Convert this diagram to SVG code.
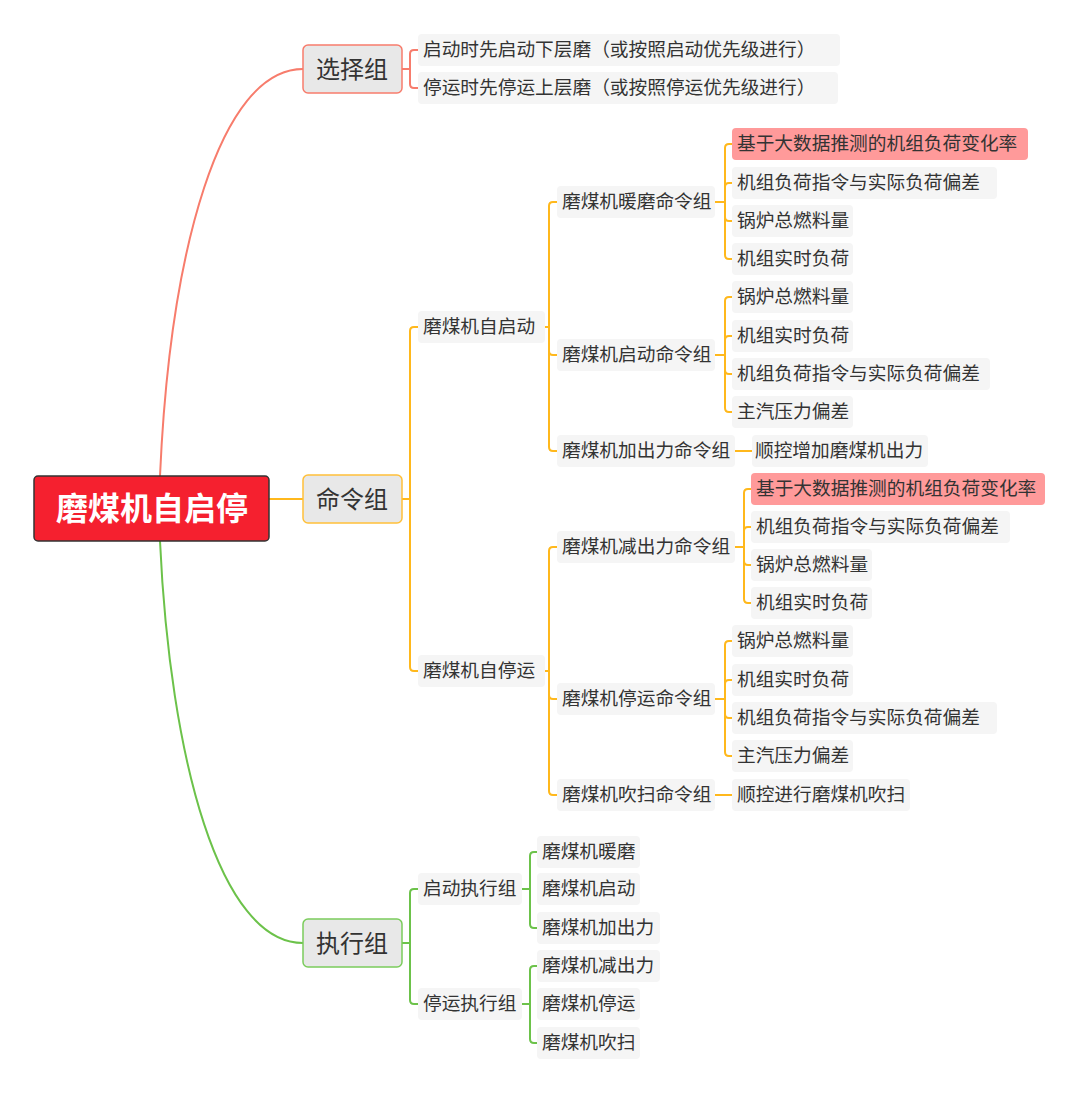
<svg xmlns="http://www.w3.org/2000/svg" width="1080" height="1093" viewBox="0 0 1080 1093">
<style>
text{font-family:"Noto Sans CJK SC","Noto Sans",sans-serif;fill:#333;font-size:18.7px}
.leaf{fill:#f5f5f5}
.hl{fill:#ff9a9a}
.l1 text{font-size:24px}
.r{fill:none;stroke:#f77c6c;stroke-width:2}
.o{fill:none;stroke:#ffb81c;stroke-width:2}
.g{fill:none;stroke:#6cc24a;stroke-width:2}
</style>
<rect width="1080" height="1093" fill="#fff"/>
<g id="connectors">
<path class="r" d="M160,476 C170,250 220,69 303,69"/>
<path class="g" d="M160,541 C170,760 220,943 303,943"/>
<path class="o" d="M269,499 H303"/>
<path class="r" d="M402,69 H410 M410,69 V54 Q410,50 414,50 H418 M410,69 V84 Q410,88 414,88 H418"/>
<path class="o" d="M402,499 H410 M410,499 V331 Q410,327 414,327 H418 M410,499 V667 Q410,671 414,671 H418"/>
<path class="o" d="M545,327 H549 M549,327 V206 Q549,202 553,202 H557 M549,327 V351 Q549,355 553,355 H557 M549,327 V447 Q549,451 553,451 H557"/>
<path class="o" d="M545,671 H549 M549,671 V551 Q549,547 553,547 H557 M549,671 V695 Q549,699 553,699 H557 M549,671 V791 Q549,795 553,795 H557"/>
<path class="o" d="M715,202 H725 M725,202 V148 Q725,144 729,144 H732 M725,202 V187 Q725,183 729,183 H732 M725,202 V217 Q725,221 729,221 H732 M725,202 V255 Q725,259 729,259 H732"/>
<path class="o" d="M715,355 H725 M725,355 V301 Q725,297 729,297 H732 M725,355 V340 Q725,336 729,336 H732 M725,355 V370 Q725,374 729,374 H732 M725,355 V408 Q725,412 729,412 H732"/>
<path class="o" d="M735,451 H752"/>
<path class="o" d="M735,547 H744 M744,547 V493 Q744,489 748,489 H751 M744,547 V531 Q744,527 748,527 H751 M744,547 V561 Q744,565 748,565 H751 M744,547 V599 Q744,603 748,603 H751"/>
<path class="o" d="M715,699 H725 M725,699 V645 Q725,641 729,641 H732 M725,699 V684 Q725,680 729,680 H732 M725,699 V714 Q725,718 729,718 H732 M725,699 V752 Q725,756 729,756 H732"/>
<path class="o" d="M715,795 H732"/>
<path class="g" d="M402,943 H410 M410,943 V893 Q410,889 414,889 H418 M410,943 V1000 Q410,1004 414,1004 H418"/>
<path class="g" d="M522,889 H530 M530,889 V856 Q530,852 534,852 H537 M530,889 V924 Q530,928 534,928 H537"/>
<path class="g" d="M522,1004 H530 M530,1004 V970 Q530,966 534,966 H537 M530,1004 V1039 Q530,1043 534,1043 H537"/>
</g>
<g id="root"><rect x="34" y="476" width="235" height="65" rx="4" fill="#f5202f" stroke="#333" stroke-width="1.5"/><text x="152" y="520" text-anchor="middle" style="fill:#fff;font-size:32px;font-weight:bold">磨煤机自启停</text></g>
<g id="n-xz" class="l1"><rect x="303" y="45" width="99" height="48" rx="5" fill="#e8e8e8" stroke="#f77c6c" stroke-width="1.5"/><text x="352" y="78" text-anchor="middle">选择组</text></g>
<g id="n-ml" class="l1"><rect x="303" y="475" width="99" height="48" rx="5" fill="#e8e8e8" stroke="#ffc03a" stroke-width="1.5"/><text x="352" y="508" text-anchor="middle">命令组</text></g>
<g id="n-zx" class="l1"><rect x="303" y="919" width="99" height="48" rx="5" fill="#e8e8e8" stroke="#7bcc5c" stroke-width="1.5"/><text x="352" y="952" text-anchor="middle">执行组</text></g>
<g id="xz1"><rect class="leaf" x="418" y="34" width="422" height="32" rx="4"/><text x="423" y="56">启动时先启动下层磨（或按照启动优先级进行）</text></g>
<g id="xz2"><rect class="leaf" x="418" y="72" width="420" height="32" rx="4"/><text x="423" y="94">停运时先停运上层磨（或按照停运优先级进行）</text></g>
<g id="zqd"><rect class="leaf" x="418" y="311" width="127" height="32" rx="4"/><text x="423" y="333">磨煤机自启动</text></g>
<g id="zty"><rect class="leaf" x="418" y="655" width="127" height="32" rx="4"/><text x="423" y="677">磨煤机自停运</text></g>
<g id="nm"><rect class="leaf" x="557" y="186" width="158" height="32" rx="4"/><text x="562" y="208">磨煤机暖磨命令组</text></g>
<g id="qd"><rect class="leaf" x="557" y="339" width="158" height="32" rx="4"/><text x="562" y="361">磨煤机启动命令组</text></g>
<g id="jcl"><rect class="leaf" x="557" y="435" width="178" height="32" rx="4"/><text x="562" y="457">磨煤机加出力命令组</text></g>
<g id="xcl"><rect class="leaf" x="557" y="531" width="178" height="32" rx="4"/><text x="562" y="553">磨煤机减出力命令组</text></g>
<g id="ty"><rect class="leaf" x="557" y="683" width="158" height="32" rx="4"/><text x="562" y="705">磨煤机停运命令组</text></g>
<g id="cs"><rect class="leaf" x="557" y="779" width="158" height="32" rx="4"/><text x="562" y="801">磨煤机吹扫命令组</text></g>
<g id="nm1"><rect class="hl" x="732" y="128" width="296" height="32" rx="4"/><text x="737" y="150">基于大数据推测的机组负荷变化率</text></g>
<g id="nm2"><rect class="leaf" x="732" y="167" width="265" height="32" rx="4"/><text x="737" y="189">机组负荷指令与实际负荷偏差</text></g>
<g id="nm3"><rect class="leaf" x="732" y="205" width="121" height="32" rx="4"/><text x="737" y="227">锅炉总燃料量</text></g>
<g id="nm4"><rect class="leaf" x="732" y="243" width="121" height="32" rx="4"/><text x="737" y="265">机组实时负荷</text></g>
<g id="qd1"><rect class="leaf" x="732" y="281" width="121" height="32" rx="4"/><text x="737" y="303">锅炉总燃料量</text></g>
<g id="qd2"><rect class="leaf" x="732" y="320" width="121" height="32" rx="4"/><text x="737" y="342">机组实时负荷</text></g>
<g id="qd3"><rect class="leaf" x="732" y="358" width="258" height="32" rx="4"/><text x="737" y="380">机组负荷指令与实际负荷偏差</text></g>
<g id="qd4"><rect class="leaf" x="732" y="396" width="121" height="32" rx="4"/><text x="737" y="418">主汽压力偏差</text></g>
<g id="jcl1"><rect class="leaf" x="752" y="435" width="176" height="32" rx="4"/><text x="755" y="457">顺控增加磨煤机出力</text></g>
<g id="xcl1"><rect class="hl" x="751" y="473" width="294" height="32" rx="4"/><text x="756" y="495">基于大数据推测的机组负荷变化率</text></g>
<g id="xcl2"><rect class="leaf" x="751" y="511" width="259" height="32" rx="4"/><text x="756" y="533">机组负荷指令与实际负荷偏差</text></g>
<g id="xcl3"><rect class="leaf" x="751" y="549" width="121" height="32" rx="4"/><text x="756" y="571">锅炉总燃料量</text></g>
<g id="xcl4"><rect class="leaf" x="751" y="587" width="121" height="32" rx="4"/><text x="756" y="609">机组实时负荷</text></g>
<g id="ty1"><rect class="leaf" x="732" y="625" width="121" height="32" rx="4"/><text x="737" y="647">锅炉总燃料量</text></g>
<g id="ty2"><rect class="leaf" x="732" y="664" width="121" height="32" rx="4"/><text x="737" y="686">机组实时负荷</text></g>
<g id="ty3"><rect class="leaf" x="732" y="702" width="265" height="32" rx="4"/><text x="737" y="724">机组负荷指令与实际负荷偏差</text></g>
<g id="ty4"><rect class="leaf" x="732" y="740" width="121" height="32" rx="4"/><text x="737" y="762">主汽压力偏差</text></g>
<g id="cs1"><rect class="leaf" x="732" y="779" width="178" height="32" rx="4"/><text x="737" y="801">顺控进行磨煤机吹扫</text></g>
<g id="qdzx"><rect class="leaf" x="418" y="873" width="104" height="32" rx="4"/><text x="423" y="895">启动执行组</text></g>
<g id="tyzx"><rect class="leaf" x="418" y="988" width="104" height="32" rx="4"/><text x="423" y="1010">停运执行组</text></g>
<g id="e1"><rect class="leaf" x="537" y="836" width="103" height="32" rx="4"/><text x="542" y="858">磨煤机暖磨</text></g>
<g id="e2"><rect class="leaf" x="537" y="873" width="103" height="32" rx="4"/><text x="542" y="895">磨煤机启动</text></g>
<g id="e3"><rect class="leaf" x="537" y="912" width="123" height="32" rx="4"/><text x="542" y="934">磨煤机加出力</text></g>
<g id="e4"><rect class="leaf" x="537" y="950" width="123" height="32" rx="4"/><text x="542" y="972">磨煤机减出力</text></g>
<g id="e5"><rect class="leaf" x="537" y="988" width="103" height="32" rx="4"/><text x="542" y="1010">磨煤机停运</text></g>
<g id="e6"><rect class="leaf" x="537" y="1027" width="103" height="32" rx="4"/><text x="542" y="1049">磨煤机吹扫</text></g>
</svg>
